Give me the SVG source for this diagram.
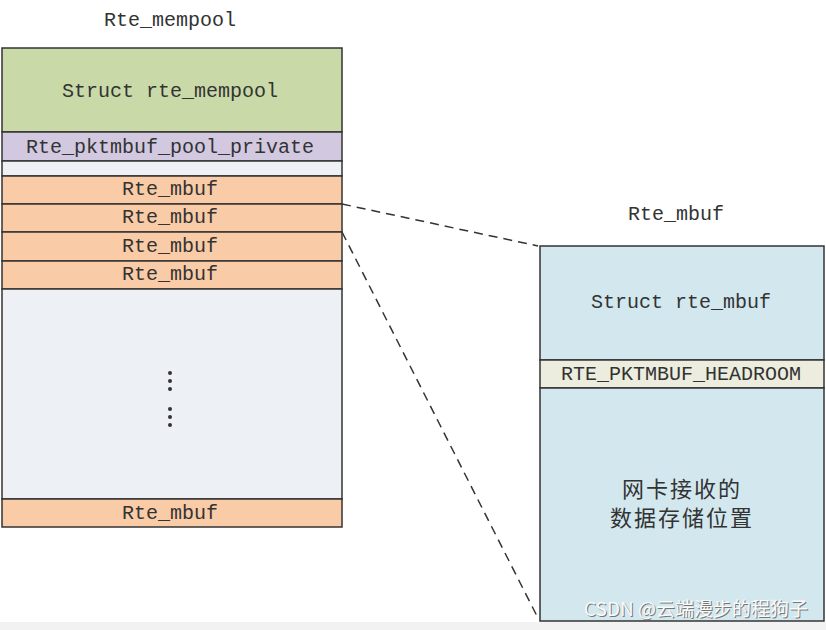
<svg xmlns="http://www.w3.org/2000/svg" width="826" height="630" viewBox="0 0 826 630">
<style>
.t{font-family:"Liberation Mono","DejaVu Sans Mono",monospace;font-size:20px;fill:#333;text-anchor:middle}
.cn{font-family:"Noto Sans CJK SC",sans-serif;font-size:22px;fill:#333;text-anchor:middle;letter-spacing:2px}
.b{stroke:#333;stroke-width:1.5}
.dash{stroke:#333;stroke-width:1.5;stroke-dasharray:9 6;fill:none}
.wm{font-family:"Noto Sans CJK SC",sans-serif;font-size:19px;text-anchor:middle}
</style>
<rect x="0" y="0" width="826" height="630" fill="#fff"/>
<rect x="0" y="622" width="826" height="8" fill="#f2f2f2"/>
<text class="t" x="170" y="26">Rte_mempool</text>
<g id="mempool">
<rect class="b" x="2" y="48" width="340" height="84" fill="#c9daa8"/>
<text class="t" x="170" y="97">Struct rte_mempool</text>
<rect class="b" x="2" y="132" width="340" height="29" fill="#d2c9e1"/>
<text class="t" x="170" y="153">Rte_pktmbuf_pool_private</text>
<rect class="b" x="2" y="161" width="340" height="15" fill="#edf1f6"/>
<rect class="b" x="2" y="176" width="340" height="28" fill="#f9cba6"/>
<text class="t" x="170" y="195">Rte_mbuf</text>
<rect class="b" x="2" y="204" width="340" height="28" fill="#f9cba6"/>
<text class="t" x="170" y="223">Rte_mbuf</text>
<rect class="b" x="2" y="232" width="340" height="29" fill="#f9cba6"/>
<text class="t" x="170" y="252">Rte_mbuf</text>
<rect class="b" x="2" y="261" width="340" height="28" fill="#f9cba6"/>
<text class="t" x="170" y="280">Rte_mbuf</text>
<rect class="b" x="2" y="289" width="340" height="210" fill="#edf1f6"/>
<g fill="#333">
<circle cx="170" cy="373" r="2"/><circle cx="170" cy="381" r="2"/><circle cx="170" cy="389" r="2"/>
<circle cx="170" cy="409" r="2"/><circle cx="170" cy="417" r="2"/><circle cx="170" cy="425" r="2"/>
</g>
<rect class="b" x="2" y="499" width="340" height="28" fill="#f9cba6"/>
<text class="t" x="170" y="519">Rte_mbuf</text>
</g>
<text class="t" x="676" y="220">Rte_mbuf</text>
<g id="mbuf">
<rect class="b" x="540" y="246" width="284" height="114" fill="#d2e8ee"/>
<text class="t" x="681" y="308">Struct rte_mbuf</text>
<rect class="b" x="540" y="360" width="284" height="28" fill="#ecedde"/>
<text class="t" x="681" y="380">RTE_PKTMBUF_HEADROOM</text>
<rect class="b" x="540" y="388" width="284" height="233" fill="#d2e8ee"/>
<text class="cn" x="682" y="497">网卡接收的</text>
<text class="cn" x="682" y="526">数据存储位置</text>
</g>
<g id="connectors">
<line class="dash" x1="342" y1="204" x2="538" y2="246"/>
<line class="dash" x1="342" y1="232" x2="539" y2="620"/>
</g>
<text class="wm" x="697" y="617" fill="#777">CSDN @云端漫步的程狗子</text>
<text class="wm" x="696" y="616" fill="#fafafa">CSDN @云端漫步的程狗子</text>
</svg>
